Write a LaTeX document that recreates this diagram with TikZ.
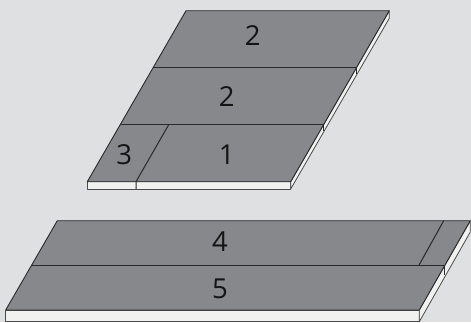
\documentclass[tikz,border=0pt]{standalone}
\usepackage{fontspec}
\setmainfont{Open Sans}
\definecolor{bg}{HTML}{DFE0E2}
\definecolor{topgray}{HTML}{87888B}
\definecolor{edge}{HTML}{2A2A2C}
\definecolor{sidewhite}{HTML}{F1F1EF}
\tikzset{
  panel/.style={fill=topgray,draw=edge,line width=0.9pt,line join=round},
  side/.style={fill=sidewhite,draw=edge!85,line width=0.8pt,line join=round},
  seam/.style={draw=edge,line width=1pt},
  num/.style={font=\fontsize{27.5}{28}\selectfont,text=black!92,inner sep=0pt}
}
\begin{document}
\begin{tikzpicture}[x=1pt,y=-1pt]
\useasboundingbox[fill=bg] (0,0) rectangle (471,322);
% upper plate
\draw[side] (87.3,181.7) -- (87.3,189) -- (290.7,189) -- (290.7,181.7) -- cycle;
\draw[side] (290.7,189) -- (389.3,18.3) -- (389.3,10.7) -- (290.7,181.7) -- cycle;
\draw[panel] (186,10.7) -- (389.3,10.7) -- (290.7,181.7) -- (87.3,181.7) -- cycle;
\draw[seam] (153.3,67.7) -- (356.7,67.7) -- (356.7,74);
\draw[seam] (120,124.7) -- (323.3,124.7) -- (323.3,130.7);
\draw[seam] (168.7,124.7) -- (136,181.7) -- (136,189);
\node[num] (a) at (252.7,35.5) {2};
\node[num] (b) at (226.7,96.5) {2};
\node[num] (c) at (124.3,154.5) {3};
\node[num] (d) at (226.7,154.5) {1};
% lower plate
\draw[side] (5.7,310) -- (5.7,321.7) -- (419.3,321.7) -- (419.3,310) -- cycle;
\draw[side] (419.3,321.7) -- (470.3,232) -- (470.3,220.7) -- (419.3,310) -- cycle;
\draw[panel] (57.3,220.7) -- (470.3,220.7) -- (419.3,310) -- (5.7,310) -- cycle;
\draw[seam] (31.7,265.7) -- (444.7,265.7) -- (444.7,275);
\draw[seam] (443.7,220.7) -- (418.7,265.7);
\node[num] (e) at (220,242) {4};
\node[num] (f) at (220,288.5) {5};
\end{tikzpicture}
\end{document}
